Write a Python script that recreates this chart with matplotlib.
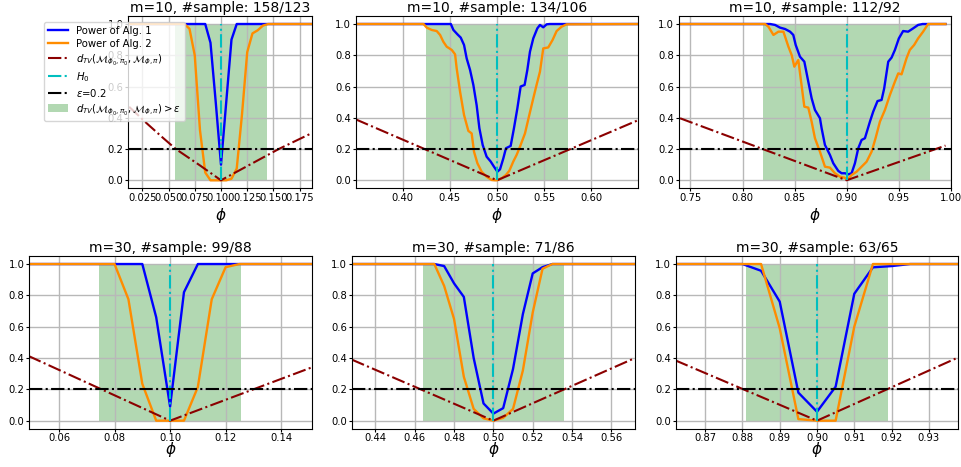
import matplotlib
matplotlib.use("Agg")
import matplotlib.pyplot as plt

# ---------------- data ----------------
titles = ["m=10, #sample: 158/123", "m=10, #sample: 134/106", "m=10, #sample: 112/92",
          "m=30, #sample: 99/88", "m=30, #sample: 71/86", "m=30, #sample: 63/65"]
phi0s = [0.1, 0.5, 0.9, 0.1, 0.5, 0.9]
eps = 0.2

# panel 1 (m=10, phi0=0.1)
phi1 = [0.0125, 0.065, 0.07, 0.075, 0.08, 0.085, 0.09, 0.095, 0.1, 0.105, 0.11,
        0.115, 0.12, 0.125, 0.13, 0.135, 0.14, 0.145, 0.1875]
blue1 = [1, 1, 1, 1, 1, 1.0, 0.88, 0.5, 0.1, 0.5, 0.9, 1.0, 1, 1, 1, 1, 1, 1, 1]
orange1 = [1, 1, 0.97, 0.8, 0.32, 0.05, 0.0, 0.0, 0.0, 0.0, 0.01, 0.075, 0.42, 0.82,
           0.94, 0.96, 0.99, 1.0, 1.0]
dtv_phi1 = [0.0125, 0.03, 0.045, 0.057, 0.08, 0.1, 0.155, 0.1875]
dtv1 = [0.47, 0.36, 0.27, 0.2, 0.095, 0.0, 0.2, 0.305]

# panel 2 (m=10, phi0=0.5)
phi2_b = [0.35, 0.451, 0.4537, 0.458, 0.4615, 0.465, 0.4678, 0.4714, 0.4749, 0.4784,
          0.4813, 0.4848, 0.489, 0.4933, 0.4968, 0.5004, 0.5032, 0.5067, 0.5095, 0.5145,
          0.518, 0.5216, 0.5251, 0.5293, 0.5322, 0.535, 0.5385, 0.5428, 0.5456, 0.5491,
          0.5527, 0.556, 0.65]
blue2 = [1, 1, 0.962, 0.934, 0.913, 0.866, 0.78, 0.706, 0.61, 0.48, 0.333, 0.226, 0.151,
         0.12, 0.087, 0.055, 0.07, 0.14, 0.205, 0.22, 0.333, 0.46, 0.6, 0.61, 0.706, 0.823,
         0.908, 0.972, 0.994, 0.979, 0.998, 1.0, 1.0]
phi2_o = [0.35, 0.422, 0.4254, 0.4307, 0.436, 0.4396, 0.443, 0.4466, 0.452, 0.4555, 0.4572,
          0.4608, 0.465, 0.4696, 0.4731, 0.4756, 0.4792, 0.4837, 0.489, 0.4943, 0.4979, 0.5,
          0.505, 0.5095, 0.513, 0.5173, 0.5208, 0.5244, 0.5297, 0.5343, 0.5385, 0.542, 0.5456,
          0.5491, 0.5544, 0.559, 0.5633, 0.5686, 0.5739, 0.65]
orange2 = [1, 1, 0.977, 0.962, 0.955, 0.93, 0.887, 0.855, 0.834, 0.806, 0.716, 0.567, 0.418,
           0.316, 0.30, 0.183, 0.109, 0.055, 0.023, 0.002, 0, 0, 0.013, 0.034, 0.06, 0.12,
           0.162, 0.215, 0.30, 0.418, 0.524, 0.61, 0.695, 0.844, 0.85, 0.898, 0.955, 0.983,
           0.998, 1]
dtv_phi2 = [0.35, 0.5, 0.65]
dtv2 = [0.39, 0.0, 0.385]

# panel 3 (m=10, phi0=0.9)
phi3_b = [0.74, 0.8265, 0.8313, 0.836, 0.8409, 0.8457, 0.8488, 0.8511, 0.8552, 0.8594,
          0.8632, 0.8664, 0.8696, 0.8744, 0.876, 0.8792, 0.8808, 0.884, 0.8872, 0.892, 0.8952,
          0.8984, 0.9016, 0.9048, 0.908, 0.9112, 0.9144, 0.9176, 0.9224, 0.9256, 0.9297,
          0.9336, 0.9361, 0.94, 0.9432, 0.9464, 0.9502, 0.9543, 0.9591, 0.9639, 0.9687,
          0.973, 0.995]
blue3 = [1, 1, 0.994, 0.977, 0.968, 0.951, 0.93, 0.866, 0.791, 0.759, 0.631, 0.525, 0.45,
         0.397, 0.333, 0.226, 0.205, 0.162, 0.109, 0.06, 0.045, 0.045, 0.038, 0.045, 0.109,
         0.205, 0.258, 0.269, 0.375, 0.44, 0.507, 0.514, 0.588, 0.759, 0.785, 0.834, 0.908,
         0.955, 0.951, 0.972, 0.994, 1.0, 1.0]
phi3_o = [0.74, 0.8217, 0.8249, 0.8297, 0.8345, 0.8393, 0.8441, 0.8473, 0.8498, 0.8536,
          0.8594, 0.8632, 0.8664, 0.8696, 0.8744, 0.8792, 0.884, 0.8888, 0.8936, 0.8978,
          0.901, 0.9048, 0.9096, 0.9144, 0.9192, 0.924, 0.9278, 0.932, 0.9368, 0.9416,
          0.9464, 0.9496, 0.9528, 0.9575, 0.9607, 0.9649, 0.9687, 0.9735, 0.9783, 0.995]
orange3 = [1, 1, 0.983, 0.93, 0.951, 0.951, 0.855, 0.80, 0.727, 0.77, 0.471, 0.465, 0.375,
           0.269, 0.183, 0.087, 0.081, 0.045, 0.023, 0.017, 0.006, 0.034, 0.055, 0.087, 0.119,
           0.183, 0.269, 0.375, 0.45, 0.546, 0.631, 0.684, 0.678, 0.78, 0.834, 0.866, 0.908,
           0.951, 1.0, 1.0]
dtv_phi3 = [0.74, 0.9, 0.995]
dtv3 = [0.397, 0.0, 0.222]

# panel 4 (m=30, phi0=0.1)
phi4 = [0.049, 0.075, 0.08, 0.085, 0.09, 0.095, 0.1, 0.105, 0.11, 0.115, 0.12, 0.125, 0.151]
blue4 = [1, 1, 1, 1, 1, 0.66, 0.09, 0.82, 1, 1, 1, 1, 1]
orange4 = [1, 1, 1, 0.775, 0.235, 0, 0, 0, 0.215, 0.775, 0.98, 1, 1]
dtv_phi4 = [0.049, 0.1, 0.151]
dtv4 = [0.413, 0.0, 0.34]

# panel 5 (m=30, phi0=0.5)
phi5 = [0.428, 0.465, 0.47, 0.475, 0.48, 0.485, 0.49, 0.495, 0.5, 0.505, 0.51, 0.515, 0.52,
        0.525, 0.53, 0.572]
blue5 = [1, 1, 1, 0.987, 0.877, 0.79, 0.40, 0.11, 0.045, 0.08, 0.33, 0.68, 0.94, 0.98, 1, 1]
orange5 = [1, 1, 1, 0.86, 0.65, 0.28, 0.075, 0.015, 0, 0.018, 0.075, 0.32, 0.69, 0.97, 1, 1]
dtv_phi5 = [0.428, 0.5, 0.572]
dtv5 = [0.39, 0.0, 0.40]

# panel 6 (m=30, phi0=0.9)
phi6 = [0.862, 0.875, 0.88, 0.885, 0.89, 0.895, 0.9, 0.905, 0.91, 0.915, 0.92, 0.925, 0.938]
blue6 = [1, 1, 1.0, 0.957, 0.76, 0.179, 0.057, 0.217, 0.81, 0.979, 0.987, 1.0, 1]
orange6 = [1, 1, 1, 1, 0.59, 0.01, 0, 0, 0.60, 1, 1, 1, 1]
dtv_phi6 = [0.862, 0.9, 0.938]
dtv6 = [0.385, 0.0, 0.405]

spans = [(0.056, 0.144), (0.425, 0.575), (0.82, 0.98),
         (0.0745, 0.1255), (0.4642, 0.5358), (0.881, 0.919)]
xlims = [(0.0117, 0.187), (0.35, 0.65), (0.739, 1.0),
         (0.0493, 0.151), (0.428, 0.572), (0.8621, 0.9379)]
xticks = [[0.025, 0.05, 0.075, 0.1, 0.125, 0.15, 0.175],
          [0.40, 0.45, 0.50, 0.55, 0.60],
          [0.75, 0.80, 0.85, 0.90, 0.95, 1.00],
          [0.06, 0.08, 0.10, 0.12, 0.14],
          [0.44, 0.46, 0.48, 0.50, 0.52, 0.54, 0.56],
          [0.87, 0.88, 0.89, 0.90, 0.91, 0.92, 0.93]]
xtick_labels = [["0.025", "0.050", "0.075", "0.100", "0.125", "0.150", "0.175"],
                ["0.40", "0.45", "0.50", "0.55", "0.60"],
                ["0.75", "0.80", "0.85", "0.90", "0.95", "1.00"],
                ["0.06", "0.08", "0.10", "0.12", "0.14"],
                ["0.44", "0.46", "0.48", "0.50", "0.52", "0.54", "0.56"],
                ["0.87", "0.88", "0.89", "0.90", "0.91", "0.92", "0.93"]]
yticks = [0.0, 0.2, 0.4, 0.6, 0.8, 1.0]
ytick_labels = ["0.0", "0.2", "0.4", "0.6", "0.8", "1.0"]

panels = [
    (phi1, blue1, phi1, orange1, dtv_phi1, dtv1),
    (phi2_b, blue2, phi2_o, orange2, dtv_phi2, dtv2),
    (phi3_b, blue3, phi3_o, orange3, dtv_phi3, dtv3),
    (phi4, blue4, phi4, orange4, dtv_phi4, dtv4),
    (phi5, blue5, phi5, orange5, dtv_phi5, dtv5),
    (phi6, blue6, phi6, orange6, dtv_phi6, dtv6),
]

# ---------------- layout (pixel boxes: left, right, top, bottom) ----------------
W, H = 962, 467
boxes = [(128.3, 312.3, 16.2, 188.1), (355.7, 638.3, 16.2, 188.1), (679.0, 950.7, 16.2, 188.1),
         (29.3, 311.7, 256.2, 428.5), (351.7, 635.0, 256.2, 428.5), (675.7, 958.3, 256.2, 428.5)]
label_y = [-0.105, -0.105, -0.105, -0.068, -0.068, -0.068]

fig = plt.figure(figsize=(W / 100, H / 100), dpi=100)

lab_dtv = r'$d_{TV}(\mathcal{M}_{\phi_0,\pi_0},\mathcal{M}_{\phi,\pi})$'
lab_span = r'$d_{TV}(\mathcal{M}_{\phi_0,\pi_0},\mathcal{M}_{\phi,\pi}) > \epsilon$'

axes = []
for i, (l, r, t, b) in enumerate(boxes):
    ax = fig.add_axes([l / W, 1 - b / H, (r - l) / W, (b - t) / H])
    axes.append(ax)
    pb, vb, po, vo, pd, vd = panels[i]
    phi0 = phi0s[i]
    ax.plot(pb, vb, color='b', lw=1.7, label='Power of Alg. 1')
    ax.plot(po, vo, color='darkorange', lw=1.7, label='Power of Alg. 2')
    ax.plot(pd, vd, '-.', color='darkred', lw=1.5, label=lab_dtv)
    ax.plot([phi0, phi0], [0, 1], '-.', color='c', lw=1.5, label=r'$H_0$')
    ax.axhline(eps, ls='-.', color='k', lw=1.5, label=r'$\epsilon$=0.2')
    ax.fill_between(list(spans[i]), 0, 1, color='g', alpha=0.3, lw=0, label=lab_span)
    ax.set_xlim(*xlims[i])
    ax.set_ylim(-0.05, 1.05)
    ax.set_xticks(xticks[i])
    ax.set_xticklabels(xtick_labels[i])
    ax.set_yticks(yticks)
    ax.set_yticklabels(ytick_labels)
    ax.tick_params(axis='both', labelsize=7.2, length=2.5)
    ax.tick_params(axis='x', pad=0.8)
    ax.tick_params(axis='y', pad=1.0)
    ax.grid(True, lw=1.0, color='#b8b8b8')
    ax.set_title(titles[i], fontsize=10, pad=2.8)
    ax.set_xlabel(r'$\phi$', fontsize=11)
    ax.xaxis.set_label_coords(0.5, label_y[i])

axes[0].legend(loc='upper left', bbox_to_anchor=(44 / W, 1 - 21.7 / H),
               bbox_transform=fig.transFigure, borderaxespad=0, fontsize=7.3,
               labelspacing=0.3)

fig.savefig('out.png', dpi=100)
